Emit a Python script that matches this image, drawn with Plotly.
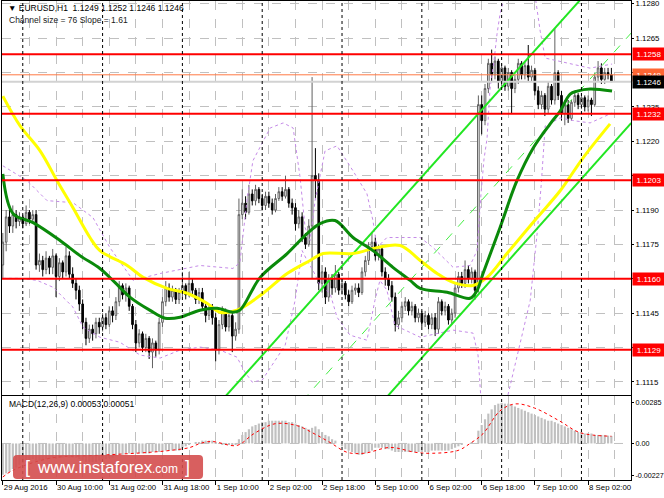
import plotly.graph_objects as go

FONT = "Liberation Sans, Arial, sans-serif"

# EURUSD H1 candles, bar 0 = 29 Aug 2016 18:00, last bar = 8 Sep 09:00
opens = [
    1.1166, 1.1176, 1.1187, 1.1183, 1.1188, 1.1185, 1.1187, 1.1184, 1.1189, 1.1186,
    1.1188, 1.1166, 1.1168, 1.1164, 1.1169, 1.1165, 1.1170, 1.1161, 1.1167, 1.1163,
    1.1170, 1.1162, 1.1158, 1.1155, 1.1149, 1.1141, 1.1134, 1.1138, 1.1136, 1.1141,
    1.1139, 1.1143, 1.1140, 1.1146, 1.1144, 1.1150, 1.1157, 1.1153, 1.1156, 1.1148,
    1.1140, 1.1132, 1.1136, 1.1130, 1.1134, 1.1128, 1.1132, 1.1129, 1.1141, 1.1150,
    1.1156, 1.1152, 1.1155, 1.1151, 1.1154, 1.1157, 1.1153, 1.1158, 1.1155, 1.1151,
    1.1154, 1.1148, 1.1144, 1.1147, 1.1143, 1.1129, 1.1140, 1.1146, 1.1139, 1.1144,
    1.1135, 1.1138, 1.1188, 1.1193, 1.1189, 1.1197, 1.1194, 1.1199, 1.1195, 1.1192,
    1.1196, 1.1193, 1.1190, 1.1195, 1.1198, 1.1196, 1.1199, 1.1193, 1.1191, 1.1184,
    1.1187, 1.1178, 1.1175, 1.1183, 1.1205, 1.1203, 1.1158, 1.1163, 1.1152, 1.1160,
    1.1156, 1.1162, 1.1155, 1.1158, 1.1153, 1.1150, 1.1155, 1.1156, 1.1154, 1.1163,
    1.1168, 1.1174, 1.1176, 1.1170, 1.1173, 1.1163, 1.1160, 1.1157, 1.1152, 1.1140,
    1.1143, 1.1148, 1.1150, 1.1146, 1.1148, 1.1143, 1.1145, 1.1141, 1.1144, 1.1140,
    1.1143, 1.1138, 1.1150, 1.1146, 1.1148, 1.1142, 1.1145, 1.1156, 1.1161, 1.1158,
    1.1164, 1.1160, 1.1163, 1.1157, 1.1236, 1.1229, 1.1243, 1.1254, 1.1249, 1.1255,
    1.1246, 1.1252, 1.1244, 1.1250, 1.1243, 1.1247, 1.1254, 1.1249, 1.1253, 1.1248,
    1.1251, 1.1242, 1.1236, 1.1240, 1.1234, 1.1244, 1.1238, 1.1250, 1.1240, 1.1232,
    1.1236, 1.1230, 1.1237, 1.1240, 1.1236, 1.1239, 1.1235, 1.1238, 1.1236, 1.1248,
    1.1252, 1.1247, 1.1250, 1.1249,
]
highs = [
    1.1180, 1.1190, 1.1191, 1.1192, 1.1190, 1.1189, 1.1188, 1.1192, 1.1190, 1.1190,
    1.1190, 1.1171, 1.1170, 1.1172, 1.1170, 1.1173, 1.1171, 1.1169, 1.1168, 1.1174,
    1.1172, 1.1165, 1.1160, 1.1157, 1.1151, 1.1143, 1.1140, 1.1140, 1.1143, 1.1143,
    1.1145, 1.1145, 1.1148, 1.1148, 1.1152, 1.1159, 1.1158, 1.1158, 1.1157, 1.1149,
    1.1142, 1.1138, 1.1137, 1.1136, 1.1135, 1.1134, 1.1133, 1.1143, 1.1152, 1.1159,
    1.1158, 1.1157, 1.1156, 1.1156, 1.1163, 1.1158, 1.1163, 1.1160, 1.1156, 1.1156,
    1.1156, 1.1150, 1.1149, 1.1149, 1.1145, 1.1142, 1.1148, 1.1147, 1.1146, 1.1146,
    1.1141, 1.1195, 1.1199, 1.1196, 1.1201, 1.1199, 1.1201, 1.1200, 1.1197, 1.1198,
    1.1198, 1.1195, 1.1197, 1.1200, 1.1200, 1.1205, 1.1200, 1.1195, 1.1193, 1.1190,
    1.1189, 1.1180, 1.1186, 1.1248, 1.1217, 1.1206, 1.1166, 1.1165, 1.1162, 1.1162,
    1.1166, 1.1163, 1.1160, 1.1159, 1.1155, 1.1157, 1.1158, 1.1158, 1.1165, 1.1170,
    1.1176, 1.1180, 1.1178, 1.1175, 1.1174, 1.1165, 1.1162, 1.1159, 1.1154, 1.1146,
    1.1150, 1.1152, 1.1151, 1.1150, 1.1149, 1.1147, 1.1146, 1.1146, 1.1145, 1.1145,
    1.1145, 1.1152, 1.1151, 1.1150, 1.1149, 1.1147, 1.1158, 1.1163, 1.1163, 1.1168,
    1.1166, 1.1165, 1.1164, 1.1240, 1.1240, 1.1245, 1.1256, 1.1260, 1.1257, 1.1256,
    1.1254, 1.1253, 1.1252, 1.1251, 1.1249, 1.1256, 1.1255, 1.1255, 1.1262, 1.1253,
    1.1252, 1.1244, 1.1242, 1.1241, 1.1246, 1.1245, 1.1269, 1.1251, 1.1242, 1.1238,
    1.1238, 1.1238, 1.1242, 1.1241, 1.1241, 1.1240, 1.1240, 1.1239, 1.1250, 1.1255,
    1.1254, 1.1252, 1.1252, 1.1252,
]
lows = [
    1.1160, 1.1172, 1.1180, 1.1180, 1.1182, 1.1183, 1.1182, 1.1183, 1.1184, 1.1184,
    1.1164, 1.1163, 1.1161, 1.1162, 1.1162, 1.1162, 1.1152, 1.1159, 1.1160, 1.1161,
    1.1160, 1.1156, 1.1151, 1.1146, 1.1138, 1.1131, 1.1132, 1.1133, 1.1134, 1.1136,
    1.1137, 1.1138, 1.1139, 1.1141, 1.1142, 1.1148, 1.1151, 1.1150, 1.1146, 1.1138,
    1.1128, 1.1130, 1.1128, 1.1128, 1.1125, 1.1121, 1.1126, 1.1127, 1.1139, 1.1148,
    1.1150, 1.1150, 1.1149, 1.1149, 1.1152, 1.1151, 1.1152, 1.1153, 1.1149, 1.1149,
    1.1146, 1.1141, 1.1142, 1.1140, 1.1124, 1.1127, 1.1138, 1.1137, 1.1137, 1.1128,
    1.1133, 1.1136, 1.1186, 1.1186, 1.1188, 1.1192, 1.1192, 1.1193, 1.1190, 1.1190,
    1.1191, 1.1188, 1.1189, 1.1194, 1.1194, 1.1195, 1.1191, 1.1188, 1.1181, 1.1182,
    1.1176, 1.1173, 1.1174, 1.1160, 1.1195, 1.1155, 1.1154, 1.1149, 1.1150, 1.1153,
    1.1154, 1.1153, 1.1153, 1.1151, 1.1148, 1.1149, 1.1153, 1.1152, 1.1153, 1.1161,
    1.1166, 1.1172, 1.1168, 1.1168, 1.1161, 1.1157, 1.1155, 1.1150, 1.1137, 1.1138,
    1.1141, 1.1146, 1.1144, 1.1144, 1.1141, 1.1141, 1.1139, 1.1139, 1.1138, 1.1138,
    1.1135, 1.1136, 1.1144, 1.1144, 1.1140, 1.1140, 1.1143, 1.1154, 1.1156, 1.1156,
    1.1158, 1.1158, 1.1151, 1.1154, 1.1223, 1.1227, 1.1241, 1.1246, 1.1247, 1.1243,
    1.1244, 1.1242, 1.1242, 1.1232, 1.1241, 1.1245, 1.1247, 1.1247, 1.1246, 1.1246,
    1.1240, 1.1234, 1.1234, 1.1231, 1.1232, 1.1236, 1.1236, 1.1238, 1.1229, 1.1227,
    1.1228, 1.1229, 1.1235, 1.1234, 1.1234, 1.1233, 1.1233, 1.1231, 1.1235, 1.1246,
    1.1245, 1.1245, 1.1247, 1.1246,
]
closes = [
    1.1176, 1.1187, 1.1183, 1.1188, 1.1185, 1.1187, 1.1184, 1.1189, 1.1186, 1.1188,
    1.1166, 1.1168, 1.1164, 1.1169, 1.1165, 1.1170, 1.1161, 1.1167, 1.1163, 1.1170,
    1.1162, 1.1158, 1.1155, 1.1149, 1.1141, 1.1134, 1.1138, 1.1136, 1.1141, 1.1139,
    1.1143, 1.1140, 1.1146, 1.1144, 1.1150, 1.1157, 1.1153, 1.1156, 1.1148, 1.1140,
    1.1132, 1.1136, 1.1130, 1.1134, 1.1128, 1.1132, 1.1129, 1.1141, 1.1150, 1.1156,
    1.1152, 1.1155, 1.1151, 1.1154, 1.1157, 1.1153, 1.1158, 1.1155, 1.1151, 1.1154,
    1.1148, 1.1144, 1.1147, 1.1143, 1.1129, 1.1140, 1.1146, 1.1139, 1.1144, 1.1135,
    1.1138, 1.1188, 1.1193, 1.1189, 1.1197, 1.1194, 1.1199, 1.1195, 1.1192, 1.1196,
    1.1193, 1.1190, 1.1195, 1.1198, 1.1196, 1.1199, 1.1193, 1.1191, 1.1184, 1.1187,
    1.1178, 1.1175, 1.1183, 1.1205, 1.1203, 1.1158, 1.1163, 1.1152, 1.1160, 1.1156,
    1.1162, 1.1155, 1.1158, 1.1153, 1.1150, 1.1155, 1.1156, 1.1154, 1.1163, 1.1168,
    1.1174, 1.1176, 1.1170, 1.1173, 1.1163, 1.1160, 1.1157, 1.1152, 1.1140, 1.1143,
    1.1148, 1.1150, 1.1146, 1.1148, 1.1143, 1.1145, 1.1141, 1.1144, 1.1140, 1.1143,
    1.1138, 1.1150, 1.1146, 1.1148, 1.1142, 1.1145, 1.1156, 1.1161, 1.1158, 1.1164,
    1.1160, 1.1163, 1.1155, 1.1236, 1.1229, 1.1243, 1.1254, 1.1249, 1.1255, 1.1246,
    1.1252, 1.1244, 1.1250, 1.1243, 1.1247, 1.1254, 1.1249, 1.1253, 1.1248, 1.1251,
    1.1242, 1.1236, 1.1240, 1.1234, 1.1244, 1.1238, 1.1250, 1.1240, 1.1232, 1.1236,
    1.1230, 1.1237, 1.1240, 1.1236, 1.1239, 1.1235, 1.1238, 1.1236, 1.1248, 1.1252,
    1.1247, 1.1250, 1.1249, 1.1246,
]
bars = list(range(len(closes)))

# MACD(12,26,9) main line (histogram), one value per bar
macd_hist = [
    -0.0022, -0.0021, -0.0020, -0.0018, -0.0017, -0.0015, -0.0014, -0.0013, -0.0012, -0.0011,
    -0.0012, -0.0012, -0.0012, -0.0011, -0.0011, -0.0010, -0.0011, -0.0010, -0.0010, -0.0009,
    -0.0010, -0.0010, -0.0010, -0.0011, -0.0012, -0.0013, -0.0013, -0.0013, -0.0013, -0.0012,
    -0.0011, -0.0011, -0.0010, -0.0010, -0.0009, -0.0008, -0.0008, -0.0007, -0.0007, -0.0007,
    -0.0007, -0.0007, -0.0007, -0.0007, -0.0007, -0.0006, -0.0006, -0.0006, -0.0005, -0.0005,
    -0.0005, -0.0005, -0.0005, -0.0005, -0.0003, -0.0002, -0.0001, 0.0000, 0.0001, 0.0001,
    0.0002, 0.0002, 0.0002, 0.0002, 0.0001, 0.0000, -0.0001, -0.0001, -0.0001, -0.0001,
    -0.0001, 0.0003, 0.0006, 0.0008, 0.0010, 0.0012, 0.0013, 0.0014, 0.0015, 0.0015,
    0.0016, 0.0016, 0.0016, 0.0016, 0.0016, 0.0016, 0.0015, 0.0015, 0.0014, 0.0013,
    0.0012, 0.0011, 0.0010, 0.0011, 0.0012, 0.0010, 0.0008, 0.0006, 0.0005, 0.0003,
    0.0002, 0.0000, -0.0002, -0.0004, -0.0005, -0.0006, -0.0007, -0.0008, -0.0008, -0.0007,
    -0.0006, -0.0005, -0.0003, -0.0003, -0.0003, -0.0004, -0.0004, -0.0005, -0.0006, -0.0006,
    -0.0006, -0.0006, -0.0006, -0.0006, -0.0006, -0.0006, -0.0006, -0.0006, -0.0006, -0.0005,
    -0.0005, -0.0005, -0.0005, -0.0005, -0.0005, -0.0004, -0.0003, -0.0002, -0.0001, 0.0000,
    0.0000, 0.0001, 0.0000, 0.0009, 0.0013, 0.0017, 0.0021, 0.0024, 0.0027, 0.0028,
    0.00285, 0.0028, 0.0028, 0.0027, 0.0026, 0.0025, 0.0024, 0.0023, 0.0022, 0.0021,
    0.0020, 0.0019, 0.0018, 0.0017, 0.0016, 0.0016, 0.0015, 0.0014, 0.0013, 0.0012,
    0.0011, 0.0010, 0.0009, 0.0008, 0.0008, 0.0007, 0.0007, 0.0007, 0.0006, 0.0006,
    0.0006, 0.0006, 0.00055, 0.00053,
]
signal_x = [0, 3.1, 14.2, 29.2, 44.3, 50.3, 56.3, 59.3, 62.9, 70.4, 75.5, 81.9, 88.5, 93.6,
            98.4, 103.5, 108.6, 116.5, 124, 129.1, 136.9, 140.5, 144.4, 149.5, 154, 159.8,
            167.3, 173.6, 183]
signal_y = [-0.00236, -0.00188, -0.00104, -0.00083, -0.00062, -0.00049, -0.00028, 0.0, 0.00014,
            -0.00014, 0.00069, 0.00139, 0.00125, 0.00069, 0.00007, -0.00062, -0.00069, -0.00028,
            -0.00062, -0.00069, -0.00049, 0.0, 0.00069, 0.00229, 0.00278, 0.0025, 0.0016,
            0.00076, 0.00051]

# moving averages
ma_green_x = [0, 3.1, 9.1, 17.2, 23.2, 29.2, 33.7, 38.3, 44.3, 48.8, 53.3, 59.3, 64.4, 69.2,
              71.3, 77.4, 85.5, 91.5, 95.4, 99.9, 105.3, 111.3, 117.3, 122.5, 125.5, 133.6,
              140.5, 142.6, 144.4, 149.5, 154.6, 159.5, 164.6, 167.6, 170.6, 172.7, 176.6, 183.2]
ma_green_y = [1.12058, 1.11884, 1.11845, 1.11767, 1.11701, 1.11645, 1.11584, 1.11519, 1.11462,
              1.11428, 1.11432, 1.11463, 1.11471, 1.11454, 1.11463, 1.11606, 1.11710, 1.11797,
              1.11841, 1.11854, 1.11780, 1.11723, 1.11650, 1.11593, 1.11558, 1.11541, 1.11515,
              1.11549, 1.11623, 1.11823, 1.12028, 1.12171, 1.12276, 1.12332, 1.12406, 1.12419,
              1.12428, 1.12419]
ma_yellow_x = [0, 5.2, 11.2, 16.3, 21.1, 26.2, 29.2, 37.4, 42.2, 49.4, 55.4, 61.4, 65.3, 70.4,
               78.3, 85.5, 92.4, 96.3, 105.3, 112.5, 119.5, 125.5, 130.6, 135.4, 141.4, 145.6,
               151.6, 160.7, 167.6, 174.5, 182.6]
ma_yellow_y = [1.12397, 1.12267, 1.12158, 1.12028, 1.11910, 1.11780, 1.11723, 1.11658, 1.11606,
               1.11558, 1.11537, 1.11493, 1.11454, 1.11463, 1.11537, 1.11623, 1.11680, 1.11710,
               1.11710, 1.11736, 1.11745, 1.11680, 1.11623, 1.11584, 1.11571, 1.11606, 1.11710,
               1.11867, 1.11984, 1.12128, 1.12276]

# Bollinger-style envelope (violet dotted)
band_up_x = [0, 7.3, 13.3, 21.1, 27.1, 32.2, 39.2, 47.3, 59.3, 69.2, 71.3, 73.4, 75.2, 80.4,
             84.3, 87.3, 89.4, 90.9, 92.4, 93.9, 96.9, 100.5, 105.3, 109.5, 111.3, 112.5, 115.5,
             125.5, 129.4, 135.4, 140.5, 142.6, 143.8, 144.7, 145.6, 146.5, 147.7, 148.6, 149.5,
             151, 160, 161.6, 163.1, 170.6, 176.6, 183.2]
band_up_y = [1.12093, 1.12028, 1.11941, 1.11932, 1.11867, 1.11736, 1.11593, 1.11623, 1.11658,
             1.11645, 1.11671, 1.11941, 1.12115, 1.12258, 1.12280, 1.12258, 1.12041, 1.11823,
             1.11767, 1.11941, 1.12158, 1.12180, 1.12071, 1.11971, 1.11854, 1.11736, 1.11780,
             1.11780, 1.11736, 1.11650, 1.11658, 1.11723, 1.11971, 1.12123, 1.12210, 1.12428,
             1.12550, 1.12667, 1.12754, 1.12840, 1.12840, 1.12680, 1.12563, 1.12537, 1.12519,
             1.12537]
band_lo_x = [0, 5.2, 10.3, 15.1, 21.1, 24.1, 29.2, 35.2, 41.3, 47.3, 53.3, 59.3, 65.3, 70.4,
             72.8, 75, 78, 80.4, 84.9, 87.9, 90, 91.8, 93.3, 95.4, 98.4, 100.5, 104.4, 109.5,
             111.9, 113.4, 115.5, 117.9, 125.5, 135.4, 141.4, 142.9, 143.8, 148, 151.9, 158.6,
             160.7, 161.9, 163.1, 167.6, 172.1, 176.6, 183.2]
band_lo_y = [1.11602, 1.11602, 1.11593, 1.11563, 1.11476, 1.11389, 1.11345, 1.11323, 1.11267,
             1.11254, 1.11289, 1.11302, 1.11289, 1.11258, 1.11193, 1.11149, 1.11158, 1.11210,
             1.11310, 1.11506, 1.11723, 1.11671, 1.11636, 1.11571, 1.11537, 1.11432, 1.11354,
             1.11332, 1.11506, 1.11593, 1.11550, 1.11397, 1.11345, 1.11376, 1.11363, 1.11267,
             1.11071, 1.10890, 1.11093, 1.11506, 1.11802, 1.12010, 1.12267, 1.12302, 1.12289,
             1.12280, 1.12323]

# equidistant channel anchors
chan_up_x = [67, 189]
chan_up_y = [1.11088, 1.13066]
chan_mid_x = [90, 189]
chan_mid_y = [1.11066, 1.12673]
chan_lo_x = [106, 189]
chan_lo_y = [1.10930, 1.12280]

tick_bars = [0, 16, 32, 48, 64, 80, 96, 112, 128, 144, 160, 176]
tick_labels = ["29 Aug 2016", "30 Aug 10:00", "31 Aug 02:00", "31 Aug 18:00", "1 Sep 10:00",
               "2 Sep 02:00", "2 Sep 18:00", "5 Sep 10:00", "6 Sep 02:00", "6 Sep 18:00",
               "7 Sep 10:00", "8 Sep 02:00"]
mid_grid_bars = [8, 24, 40, 56, 72, 88, 104, 120, 136, 152, 168, 184]
day_starts = [6, 30, 54, 78, 102, 126, 150, 174]

price_ticks = [1.1280, 1.1265, 1.1250, 1.1235, 1.1220, 1.1205, 1.1190, 1.1175, 1.1160,
               1.1145, 1.1130, 1.1115]
price_labels = ["1.1280", "1.1265", "", "1.1235", "1.1220", "", "1.1190", "1.1175", "",
                "1.1145", "", "1.1115"]
macd_ticks = [0.00285, 0.0, -0.00227]
macd_labels = ["0.00285", "0.00", "-0.00227"]

levels = [1.1258, 1.1232, 1.1203, 1.1160, 1.1129]
ask_price = 1.1249
bid_price = 1.1246

GRID = "#c0c0c0"
tickfont = dict(family=FONT, size=7.8, color="black")

fig = go.Figure()

fig.add_trace(go.Candlestick(
    x=bars, open=opens, high=highs, low=lows, close=closes,
    increasing=dict(line=dict(color="#606060", width=1), fillcolor="white"),
    decreasing=dict(line=dict(color="black", width=1), fillcolor="black"),
    whiskerwidth=0, xaxis="x", yaxis="y", hoverinfo="skip"))

for bx, by in [(band_up_x, band_up_y), (band_lo_x, band_lo_y)]:
    fig.add_trace(go.Scatter(x=bx, y=by, mode="lines", line=dict(color="#c58be8", width=1, dash="dot"),
                             xaxis="x", yaxis="y", hoverinfo="skip"))

fig.add_trace(go.Scatter(x=chan_up_x, y=chan_up_y, mode="lines", line=dict(color="#22e622", width=2),
                         xaxis="x", yaxis="y"))
fig.add_trace(go.Scatter(x=chan_lo_x, y=chan_lo_y, mode="lines", line=dict(color="#22e622", width=2),
                         xaxis="x", yaxis="y"))
fig.add_trace(go.Scatter(x=chan_mid_x, y=chan_mid_y, mode="lines",
                         line=dict(color="#44ee44", width=1, dash="dash"), xaxis="x", yaxis="y"))

fig.add_trace(go.Scatter(x=ma_yellow_x, y=ma_yellow_y, mode="lines", line_shape="spline",
                         line=dict(color="#ffff00", width=3), xaxis="x", yaxis="y"))
fig.add_trace(go.Scatter(x=ma_green_x, y=ma_green_y, mode="lines", line_shape="spline",
                         line=dict(color="#0a8a0a", width=3), xaxis="x", yaxis="y"))

fig.add_trace(go.Bar(x=bars, y=macd_hist, marker=dict(color="#c0c0c0", line=dict(width=0)),
                     xaxis="x2", yaxis="y2"))
fig.add_trace(go.Scatter(x=signal_x, y=signal_y, mode="lines", line_shape="spline",
                         line=dict(color="#ff0000", width=1, dash="dot"), xaxis="x2", yaxis="y2"))

# horizontal levels
for lv in levels:
    fig.add_shape(type="line", xref="x domain", x0=0, x1=1, yref="y", y0=lv, y1=lv,
                  line=dict(color="#ff0000", width=2))
fig.add_shape(type="line", xref="x domain", x0=0, x1=1, yref="y", y0=bid_price, y1=bid_price,
              line=dict(color="#d2d2d2", width=2))
fig.add_shape(type="line", xref="x domain", x0=0, x1=1, yref="y", y0=ask_price, y1=ask_price,
              line=dict(color="#ff7a45", width=1))
fig.add_shape(type="line", xref="x2 domain", x0=0, x1=1, yref="y2", y0=0, y1=0,
              line=dict(color=GRID, width=1, dash="dash"), layer="below")

# day separators
for d in day_starts:
    fig.add_shape(type="line", xref="x", x0=d, x1=d, yref="paper", y0=0, y1=1,
                  line=dict(color="black", width=1, dash="dot"))


# price labels on the right
def price_tag(y, text, bg, fg="white"):
    fig.add_annotation(x=1, xref="paper", xanchor="left", xshift=1, y=y, yref="y",
                       text=text, showarrow=False, bgcolor=bg, width=30, height=10,
                       borderpad=1, align="center", font=dict(family=FONT, size=8, color=fg))


for lv in levels:
    price_tag(lv, f"{lv:.4f}", "#ff0000")
price_tag(ask_price, f"{ask_price:.4f}", "#ff6633")
price_tag(bid_price, f"{bid_price:.4f}", "black")

# header texts
fig.add_annotation(x=0.006, y=0.986, xref="paper", yref="paper", xanchor="left", yanchor="middle",
                   text="\u25bc EURUSD,H1  1.1249 1.1252 1.1246 1.1246", showarrow=False,
                   font=dict(family=FONT, size=8.5, color="black"))
fig.add_annotation(x=0.008, y=0.961, xref="paper", yref="paper", xanchor="left", yanchor="middle",
                   text="Channel size = 76 Slope = 1.61", showarrow=False,
                   font=dict(family=FONT, size=8.5, color="#202020"))
fig.add_annotation(x=0.008, y=0.159, xref="paper", yref="paper", xanchor="left", yanchor="middle",
                   text="MACD(12,26,9) 0.00053 0.00051", showarrow=False,
                   font=dict(family=FONT, size=8.5, color="black"))

# watermark box
x0, x1, yb, yt = 0.0175, 0.3196, 0.0021, 0.0522
rx, ry = 0.0064, 0.0084
path = (f"M {x0+rx},{yb} L {x1-rx},{yb} Q {x1},{yb} {x1},{yb+ry} L {x1},{yt-ry} "
        f"Q {x1},{yt} {x1-rx},{yt} L {x0+rx},{yt} Q {x0},{yt} {x0},{yt-ry} "
        f"L {x0},{yb+ry} Q {x0},{yb} {x0+rx},{yb} Z")
fig.add_shape(type="path", path=path, xref="paper", yref="paper",
              fillcolor="rgba(212,78,78,0.9)", line=dict(width=0))
for txt, xp, yp, sz in [("[", 0.034, 0.028, 18), ("www.instaforex", 0.053, 0.027, 17),
                        (".com", 0.236, 0.023, 12), ("]", 0.287, 0.028, 18)]:
    fig.add_annotation(x=xp, y=yp, xref="paper", yref="paper", xanchor="left", yanchor="middle",
                       text=txt, showarrow=False,
                       font=dict(family="Liberation Sans, Arial", size=sz, color="white"))

axis_line = dict(showline=True, linecolor="black", linewidth=1, mirror=True, zeroline=False,
                 automargin=False)
grid = dict(showgrid=True, gridcolor=GRID, griddash="dash", gridwidth=1)
minor = dict(tickvals=mid_grid_bars, showgrid=True, gridcolor=GRID, griddash="dash", ticks="")

fig.update_layout(
    width=664, height=498, margin=dict(l=2, r=33, t=1, b=18),
    paper_bgcolor="white", plot_bgcolor="white", showlegend=False, bargap=0.35,
    xaxis=dict(domain=[0, 1], anchor="y", range=[-0.25, 188.9], tickvals=tick_bars,
               showticklabels=False, ticks="", rangeslider=dict(visible=False), minor=minor,
               **grid, **axis_line),
    xaxis2=dict(domain=[0, 1], anchor="y2", matches="x", tickvals=tick_bars, ticktext=tick_labels,
                ticklabelposition="outside right", tickangle=0, ticks="outside", ticklen=4,
                tickcolor="black", tickfont=tickfont, ticklabeloverflow="allow", minor=minor,
                **grid, **axis_line),
    yaxis=dict(domain=[0.1775, 1], anchor="x", side="right", range=[1.11093, 1.12812],
               tickvals=price_ticks, ticktext=price_labels, ticks="outside", ticklen=2,
               tickcolor="black", tickfont=tickfont, ticklabeloverflow="allow", **grid, **axis_line),
    yaxis2=dict(domain=[0, 0.1754], anchor="x2", side="right", range=[-0.00257, 0.00334],
                tickvals=macd_ticks, ticktext=macd_labels, ticks="outside", ticklen=2,
                tickcolor="black", tickfont=dict(family=FONT, size=7.2, color="black"),
                ticklabeloverflow="allow", showgrid=False, **axis_line),
)

# the page's default body margin would push the 664x498 figure off the window
fig.write_html("out.html", config={"displayModeBar": False},
               post_script="document.body.style.margin='0px';")
